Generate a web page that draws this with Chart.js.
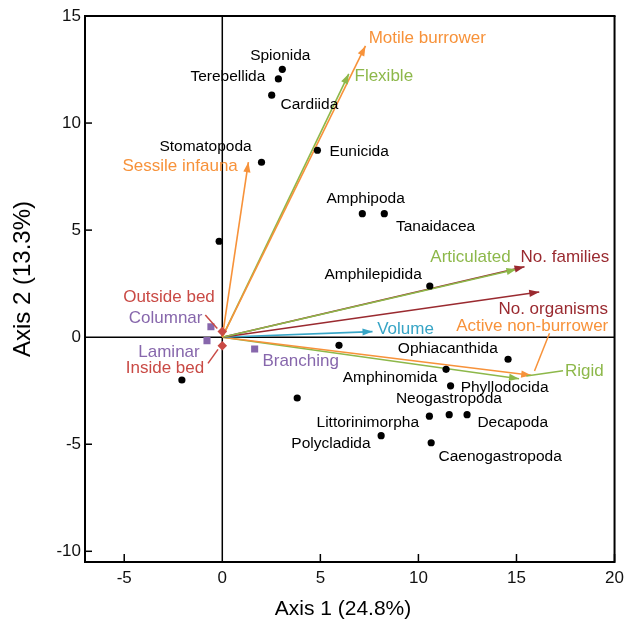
<!DOCTYPE html>
<html>
<head>
<meta charset="utf-8">
<script src="https://cdn.jsdelivr.net/npm/chart.js@4/dist/chart.umd.min.js"></script>
<style>
  html, body { margin: 0; padding: 0; background: #ffffff; }
  canvas { display: block; }
</style>
</head>
<body>
<canvas id="ordination" width="630" height="625"></canvas>
<script>
// ---- Taxa scores on ordination axes 1 and 2 ----
const taxaNames = ['Spionida', 'Terebellida', 'Cardiida', 'Stomatopoda', '', 'Eunicida',
  'Amphipoda', 'Tanaidacea', 'Amphilepidida', '', '', '', 'Ophiacanthida', 'Amphinomida',
  'Phyllodocida', 'Littorinimorpha', 'Neogastropoda', 'Decapoda', 'Polycladida', 'Caenogastropoda'];
const taxaX = [3.06, 2.86, 2.52, 2.0, -0.16, 4.85, 7.14, 8.26, 10.58, -2.06, 3.82, 5.95,
  14.57, 11.41, 11.64, 10.56, 11.57, 12.48, 8.1, 10.65];
const taxaY = [12.51, 12.06, 11.30, 8.17, 4.48, 8.73, 5.77, 5.77, 2.39, -2.0, -2.84, -0.38,
  -1.03, -1.5, -2.27, -3.69, -3.62, -3.62, -4.6, -4.93];

// ---- Trait vectors (drawn as arrows from the origin) ----
const vectorNames = ['Motile burrower', 'Flexible', 'Sessile infauna', 'Articulated',
  'No. families', 'No. organisms', 'Volume', 'Active non-burrower', 'Rigid'];
const vectorX = [7.3, 6.45, 1.33, 15.0, 15.41, 16.16, 7.66, 15.75, 15.13];
const vectorY = [13.60, 12.30, 8.17, 3.17, 3.29, 2.11, 0.26, -1.78, -1.94];

// ---- Growth-form centroids ----
const formNames = ['Columnar', 'Laminar', 'Branching'];
const formX = [-0.58, -0.78, 1.65];
const formY = [0.49, -0.16, -0.55];

// ---- Habitat centroids ----
const habitatNames = ['Outside bed', 'Inside bed'];
const habitatX = [0, 0];
const habitatY = [0.26, -0.40];

// ---- Axis ticks ----
const xTicks = [-5, 0, 5, 10, 15, 20];
const yTicks = [-10, -5, 0, 5, 10, 15];

// ---- Styling ----
const ORANGE = '#F7923A', GREEN = '#8DB84A', DARKRED = '#9A2A30',
      BLUE = '#38A5C6', PURPLE = '#8767AC', RED = '#C94A45';
const vectorColors = [ORANGE, GREEN, ORANGE, GREEN, DARKRED, DARKRED, BLUE, ORANGE, GREEN];
const FONT = '"Liberation Sans", Arial, Helvetica, sans-serif';

// Label placement: pixel offsets [dx, dy] of the label centre from its mark
const taxaLabelOffset = [[-2, -14], [-50.5, -2], [37.7, 9.7], [-56, -15.3], [0, 0], [41.7, 1.7],
  [3.3, -14.7], [51.3, 13.3], [-56.7, -11], [0, 0], [0, 0], [0, 0], [-60.2, -10.3], [-56, 8.7],
  [54, 2.3], [-61.6, 6.7], [-0.3, -15.7], [45.7, 8.3], [-50.2, 8.3], [69, 14.3]];
const vectorLabelOffset = [[61.8, -8], [35, 3], [-68.2, 3.7], [-46, -12.3], [40.4, -9.7],
  [14, 17], [33, -2.7], [1, -49.3], [65.3, -7.7]];
// leader lines from labels to arrow tips: index -> [x1, y1, x2, y2] offsets from tip
const vectorLeaders = { 7: [18.3, -42, 3.3, -4.3], 8: [7.3, -2.7, 44, -8] };
const formLabelOffset = [[-45.3, -8.7], [-38, 11.3], [46, 12]];
const habitatLabelOffset = [[-53.3, -34.7], [-57.3, 22.3]];
const habitatLeaders = [[-17, -16.7, -5, -3], [-4.3, 3.6, -14.3, 17.6]];

const pts = (xs, ys) => xs.map((x, i) => ({ x: x, y: ys[i] }));

const datasets = [
  {
    label: 'Taxa', data: pts(taxaX, taxaY),
    pointRadius: 3.6, pointBackgroundColor: '#000', pointBorderWidth: 0, showLine: false
  },
  {
    label: 'Growth form', data: pts(formX, formY), pointStyle: 'rect',
    pointRadius: 5, pointBackgroundColor: PURPLE, pointBorderWidth: 0, showLine: false
  },
  {
    label: 'Habitat', data: pts(habitatX, habitatY), pointStyle: 'rectRot',
    pointRadius: 4.8, pointBackgroundColor: RED, pointBorderWidth: 0, showLine: false
  }
];
vectorNames.forEach((name, i) => {
  datasets.push({
    label: name,
    data: [{ x: 0, y: 0 }, { x: vectorX[i], y: vectorY[i] }],
    showLine: true, borderColor: vectorColors[i], borderWidth: 1.6,
    pointRadius: 0, fill: false
  });
});

function text(ctx, str, x, y, color, size) {
  ctx.fillStyle = color;
  ctx.font = size + 'px ' + FONT;
  ctx.textAlign = 'center';
  ctx.textBaseline = 'middle';
  ctx.fillText(str, x, y);
}
function line(ctx, x1, y1, x2, y2, color, w) {
  ctx.strokeStyle = color;
  ctx.lineWidth = w;
  ctx.beginPath();
  ctx.moveTo(x1, y1);
  ctx.lineTo(x2, y2);
  ctx.stroke();
}

const biplotDecor = {
  id: 'biplotDecor',
  beforeDatasetsDraw(chart) {
    const { ctx, chartArea: a, scales: { x, y } } = chart;
    ctx.save();
    ctx.lineCap = 'butt';
    // zero lines
    const x0 = x.getPixelForValue(0), y0 = y.getPixelForValue(0);
    line(ctx, x0, a.top, x0, a.bottom, '#000', 1.5);
    line(ctx, a.left, y0, a.right, y0, '#000', 1.5);
    // inward tick marks
    xTicks.forEach(v => {
      if (v === 0) return;
      const px = x.getPixelForValue(v);
      line(ctx, px, a.bottom, px, a.bottom - 8, '#000', 1.5);
    });
    yTicks.forEach(v => {
      if (v === 0) return;
      const py = y.getPixelForValue(v);
      line(ctx, a.left, py, a.left + 7, py, '#000', 1.5);
    });
    // top and right frame
    line(ctx, a.left - 1, a.top, a.right + 1, a.top, '#000', 2);
    line(ctx, a.right, a.top, a.right, a.bottom + 1, '#000', 2);
    ctx.restore();
  },
  afterDatasetsDraw(chart) {
    const { ctx, scales: { x, y } } = chart;
    ctx.save();
    const ox = x.getPixelForValue(0), oy = y.getPixelForValue(0);
    // arrowheads, leaders and labels of trait vectors
    vectorNames.forEach((name, i) => {
      const tx = x.getPixelForValue(vectorX[i]), ty = y.getPixelForValue(vectorY[i]);
      const ang = Math.atan2(ty - oy, tx - ox);
      const L = 10, W = 3.6;
      ctx.fillStyle = vectorColors[i];
      ctx.beginPath();
      ctx.moveTo(tx, ty);
      ctx.lineTo(tx - L * Math.cos(ang) + W * Math.sin(ang), ty - L * Math.sin(ang) - W * Math.cos(ang));
      ctx.lineTo(tx - L * Math.cos(ang) - W * Math.sin(ang), ty - L * Math.sin(ang) + W * Math.cos(ang));
      ctx.closePath();
      ctx.fill();
      const ld = vectorLeaders[i];
      if (ld) line(ctx, tx + ld[0], ty + ld[1], tx + ld[2], ty + ld[3], vectorColors[i], 1.5);
      const o = vectorLabelOffset[i];
      text(ctx, name, tx + o[0], ty + o[1], vectorColors[i], 17);
    });
    // taxa labels
    taxaNames.forEach((name, i) => {
      if (!name) return;
      const px = x.getPixelForValue(taxaX[i]), py = y.getPixelForValue(taxaY[i]);
      const o = taxaLabelOffset[i];
      text(ctx, name, px + o[0], py + o[1], '#000', 15.5);
    });
    // growth-form labels
    formNames.forEach((name, i) => {
      const px = x.getPixelForValue(formX[i]), py = y.getPixelForValue(formY[i]);
      const o = formLabelOffset[i];
      text(ctx, name, px + o[0], py + o[1], PURPLE, 17);
    });
    // habitat labels with leaders
    habitatNames.forEach((name, i) => {
      const px = x.getPixelForValue(habitatX[i]), py = y.getPixelForValue(habitatY[i]);
      const ld = habitatLeaders[i];
      line(ctx, px + ld[0], py + ld[1], px + ld[2], py + ld[3], RED, 1.5);
      const o = habitatLabelOffset[i];
      text(ctx, name, px + o[0], py + o[1], RED, 17);
    });
    // axis titles
    const a = chart.chartArea;
    text(ctx, 'Axis 1 (24.8%)', 343, a.bottom + 47, '#000', 21);
    ctx.translate(23, 279);
    ctx.rotate(-Math.PI / 2);
    text(ctx, 'Axis 2 (13.3%)', 0, 0, '#000', 24);
    ctx.restore();
  }
};

new Chart(document.getElementById('ordination'), {
  type: 'scatter',
  data: { datasets: datasets },
  options: {
    responsive: false,
    animation: false,
    layout: { padding: { top: 16, right: 11, left: 0, bottom: 0 } },
    plugins: { legend: { display: false }, tooltip: { enabled: false } },
    scales: {
      x: {
        type: 'linear', min: -7, max: 20,
        afterBuildTicks: s => { s.ticks = xTicks.map(v => ({ value: v })); },
        afterFit: s => { s.height = 63; },
        grid: { display: false, drawTicks: false },
        border: { display: true, color: '#000', width: 2 },
        ticks: { padding: 6, color: '#111', font: { family: FONT, size: 17 }, maxRotation: 0 }
      },
      y: {
        type: 'linear', min: -10.5, max: 15,
        afterBuildTicks: s => { s.ticks = yTicks.map(v => ({ value: v })); },
        afterFit: s => { s.width = 85; },
        grid: { display: false, drawTicks: false },
        border: { display: true, color: '#000', width: 2 },
        ticks: { padding: 4, color: '#111', font: { family: FONT, size: 17 } }
      }
    }
  },
  plugins: [biplotDecor]
});
</script>
</body>
</html>
